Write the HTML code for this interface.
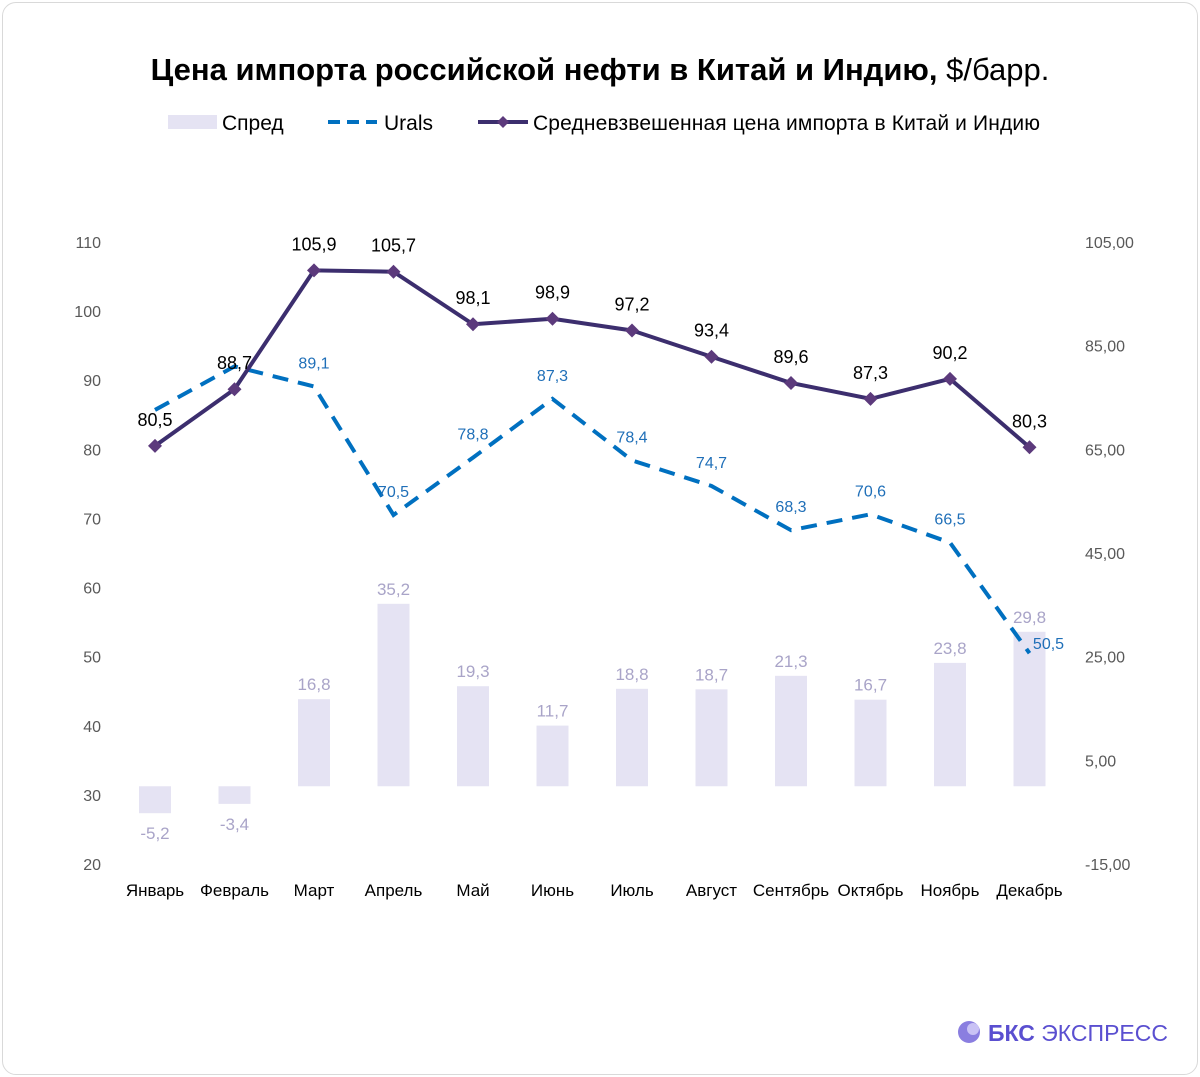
<!DOCTYPE html>
<html><head><meta charset="utf-8">
<style>
body{margin:0;background:#fff;font-family:"Liberation Sans",sans-serif;}
#card{position:absolute;left:2px;top:2px;width:1194px;height:1071px;border:1px solid #d9d9d9;border-radius:14px;background:#fff;}
</style></head>
<body>
<div id="card"></div>
<svg id="chart" width="1200" height="1077" style="position:absolute;left:0;top:0">
<text x="600" y="80" text-anchor="middle" font-size="31" font-weight="bold" fill="#000">Цена импорта российской нефти в Китай и Индию, <tspan font-weight="normal">$/барр.</tspan></text>
<g font-size="21" fill="#000">
<g><rect x="168" y="115" width="49" height="14" fill="#e5e3f3"/><text x="222" y="130">Спред</text></g>
<g><line x1="328" y1="122" x2="377" y2="122" stroke="#0070c0" stroke-width="4" stroke-dasharray="12,7"/><text x="384" y="130">Urals</text></g>
<g><line x1="478" y1="122" x2="528" y2="122" stroke="#3c2e6e" stroke-width="4"/><path d="M503 116 L509 122 L503 128 L497 122Z" fill="#5c3a7c"/><text x="533" y="130" textLength="507">Средневзвешенная цена импорта в Китай и Индию</text></g>
</g>
<g id="plot"></g>
<g><circle cx="969" cy="1032" r="11" fill="#8a7ee0"/><circle cx="973" cy="1029" r="6" fill="#c9c2f5"/><text x="988" y="1041" font-size="23" fill="#5a4fd0" textLength="180"><tspan font-weight="bold">БКС</tspan> ЭКСПРЕСС</text></g>
</svg>
<script>
const categories=["Январь","Февраль","Март","Апрель","Май","Июнь","Июль","Август","Сентябрь","Октябрь","Ноябрь","Декабрь"];
const spread=[-5.2,-3.4,16.8,35.2,19.3,11.7,18.8,18.7,21.3,16.7,23.8,29.8];
const urals=[85.7,92.0,89.1,70.5,78.8,87.3,78.4,74.7,68.3,70.6,66.5,50.5];
const uralsLabeled=[false,false,true,true,true,true,true,true,true,true,true,true];
const weighted=[80.5,88.7,105.9,105.7,98.1,98.9,97.2,93.4,89.6,87.3,90.2,80.3];
const leftTicks=[20,30,40,50,60,70,80,90,100,110];
const rightTicks=[-15,5,25,45,65,85,105];
const rightTickLabels=["-15,00","5,00","25,00","45,00","65,00","85,00","105,00"];
const NS="http://www.w3.org/2000/svg";
const g=document.getElementById('plot');
const yTop=242,yBot=864;
const yL=v=>yBot-(v-20)/90*(yBot-yTop);
const yR=v=>yBot-(v+15)/120*(yBot-yTop);
const xC=i=>155+i*79.5;
const fmt=v=>String(v).replace('.',',');
function mk(t,a,txt){const e=document.createElementNS(NS,t);for(const k in a)e.setAttribute(k,a[k]);if(txt!==undefined)e.textContent=txt;g.appendChild(e);return e;}
leftTicks.forEach(v=>{const e=mk('text',{x:101,y:yL(v)+6,'text-anchor':'end','font-size':16,fill:'#595959'},v);

});
rightTicks.forEach((v,i)=>{const e=mk('text',{x:1085,y:yR(v)+6,'font-size':16,fill:'#595959'},rightTickLabels[i]);

});
categories.forEach((c,i)=>{const e=mk('text',{x:xC(i),y:896,'text-anchor':'middle','font-size':17,fill:'#000'},c);

});
spread.forEach((v,i)=>{const y0=yR(0),y1=yR(v);
const r=mk('rect',{x:xC(i)-16,y:Math.min(y0,y1),width:32,height:Math.abs(y1-y0),fill:'#e5e3f3'});


const t=mk('text',{x:xC(i),y:v<0?y1+26:y1-9,'text-anchor':'middle','font-size':17,fill:'#a9a4c8'},fmt(v));

});
const up=mk('polyline',{points:urals.map((v,i)=>xC(i)+','+yL(v)).join(' '),fill:'none',stroke:'#0070c0','stroke-width':4,'stroke-dasharray':'16,10'});


urals.forEach((v,i)=>{if(!uralsLabeled[i])return;const last=i===urals.length-1;
const t=mk('text',{x:last?xC(i)+19:xC(i),y:last?yL(v)-4:yL(v)-18,'text-anchor':'middle','font-size':16,fill:'#1f6fb8'},fmt(v));

});
const wp=mk('polyline',{points:weighted.map((v,i)=>xC(i)+','+yL(v)).join(' '),fill:'none',stroke:'#3c2e6e','stroke-width':4});


weighted.forEach((v,i)=>{const x=xC(i),y=yL(v);
const p=mk('path',{d:`M${x} ${y-7}L${x+7} ${y}L${x} ${y+7}L${x-7} ${y}Z`,fill:'#5c3a7c'});


const t=mk('text',{x:x,y:y-20,'text-anchor':'middle','font-size':18,fill:'#000'},fmt(v));

});
</script>
</body></html>
